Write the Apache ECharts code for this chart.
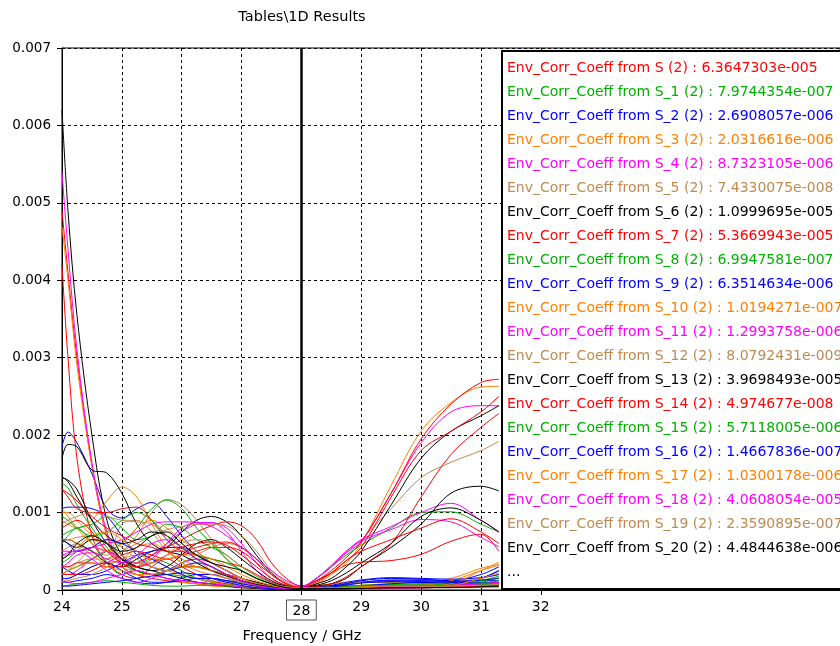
<!DOCTYPE html>
<html>
<head>
<meta charset="utf-8">
<script src="https://cdn.jsdelivr.net/npm/echarts@6/dist/echarts.min.js"></script>
<style>
  html, body { margin: 0; padding: 0; background: #fff; }
  #chart { width: 840px; height: 646px; }
</style>
</head>
<body>
<div id="chart"></div>
<script>
// frequency samples (GHz) shared by every curve
var freq = [24, 24.1, 24.25, 24.5, 24.75, 25, 25.25, 25.5, 25.75, 26, 26.25, 26.5, 26.75, 27,
            27.25, 27.5, 27.75, 28, 28.25, 28.5, 28.75, 29, 29.5, 30, 30.5, 31, 31.3];

// curve values, in units of 1e-4
var s0  = [49, 41, 30, 16, 7, 3, 2, 1.5, 1.2, 1, 0.8, 0.6, 0.5, 0.4, 0.3, 0.3, 0.4, 0.5, 1.2, 2.2, 3.2, 3.6, 3.8, 4.6, 6.3, 7.2, 5.0];
var s1  = [6, 7, 8, 6, 3.5, 2, 3, 4, 3.5, 2.5, 1.5, 1, 0.8, 0.5, 0.3, 0.2, 0.2, 0.3, 0.3, 0.4, 0.5, 0.6, 0.8, 0.9, 0.8, 1.0, 1.6];
var s2  = [18.5, 20.4, 19, 15, 10.5, 9.3, 10.5, 11.3, 9.5, 7, 5, 3.5, 2.5, 1.5, 0.8, 0.4, 0.2, 0.1, 0.2, 0.4, 0.7, 1.0, 1.2, 1.1, 1.0, 1.5, 2.5];
var s3  = [47, 40, 29, 16, 7, 3, 2.5, 2, 1.5, 1, 0.8, 0.5, 0.4, 0.3, 0.2, 0.2, 0.3, 0.4, 0.6, 0.8, 1.0, 1.0, 1.0, 1.0, 1.5, 2.8, 3.3];
var s4  = [54, 44, 31, 16.5, 7.5, 3.5, 2.5, 2, 1.5, 1.2, 1, 0.8, 0.6, 0.4, 0.3, 0.3, 0.4, 0.5, 0.5, 0.4, 0.3, 0.2, 0.2, 0.3, 0.5, 0.8, 1.0];
var s5  = [5, 5.5, 6, 5, 4.5, 8.5, 9, 7.5, 5, 4, 3, 2.5, 2, 1.5, 1, 0.6, 0.4, 0.4, 1.5, 3, 4.8, 6.5, 10.5, 14.5, 16.5, 18, 19.2];
var s6  = [62, 49, 35.5, 20, 9, 4.5, 3, 2.5, 2, 1.5, 1, 0.8, 0.5, 0.3, 0.2, 0.1, 0.1, 0.1, 0.2, 0.5, 0.8, 1.0, 1.0, 1.0, 0.8, 0.7, 0.6];
var s7  = [42, 30, 17, 7, 3.5, 2, 1.5, 3, 4, 3, 2, 1.2, 0.8, 0.5, 0.3, 0.2, 0.2, 0.3, 0.3, 0.3, 0.3, 0.3, 0.4, 0.5, 0.6, 0.5, 0.5];
var s8  = [13.8, 13.2, 11, 8, 5.5, 3.5, 2.5, 2, 2, 1.8, 1.5, 1, 0.7, 0.5, 0.3, 0.3, 0.3, 0.4, 1.5, 3, 4.5, 5.8, 8, 10, 10.1, 8.5, 7.5];
var s9  = [10.5, 10.7, 10.7, 10.5, 9.5, 7, 4.5, 3, 2.5, 3, 3.5, 3, 2, 1.2, 0.6, 0.3, 0.2, 0.2, 0.3, 0.5, 0.8, 1.0, 1.3, 1.3, 1.2, 1.2, 1.2];
var s10 = [10, 10, 9, 7, 5, 4, 3.5, 3, 2.5, 2, 1.5, 1, 0.7, 0.5, 0.3, 0.3, 0.3, 0.3, 0.8, 2, 3.5, 6, 13.5, 20.5, 24.2, 26.2, 26.3];
var s11 = [4.5, 4.5, 5, 5.5, 5, 4, 3.5, 4.5, 6, 7.5, 8.5, 8.7, 8, 6, 3.5, 1.5, 0.6, 0.4, 1.5, 3, 4.8, 6.2, 12.5, 19, 23, 23.8, 23.8];
var s12 = [3, 3, 3.5, 4, 4, 5, 7, 10, 11.7, 11, 9, 6.5, 4, 2.5, 1.5, 0.8, 0.4, 0.3, 0.4, 0.6, 0.8, 1.0, 1.0, 0.8, 0.6, 0.5, 0.5];
var s13 = [6.5, 6.5, 6, 5, 3.5, 3, 4, 5, 5.5, 7.5, 9, 9.5, 8.8, 7, 4.5, 2.2, 0.8, 0.3, 0.8, 1.5, 3, 5, 11, 17, 20.5, 22.5, 23.8];
var s14 = [3, 3, 3.5, 3.5, 3, 3, 3.5, 4.5, 5.5, 6.5, 7.5, 8.3, 8.8, 8.3, 6.5, 3.5, 1.5, 0.5, 1.2, 2.5, 4.2, 6.2, 12.5, 19.5, 24, 26.8, 27.2];
var s15 = [2, 2.5, 3, 4, 5, 6, 8, 10.5, 11.6, 10.5, 8, 6, 4, 2.5, 1.5, 0.8, 0.4, 0.3, 0.3, 0.4, 0.5, 0.5, 0.6, 0.6, 0.5, 0.8, 1.2];
var s16 = [1, 1, 1.2, 1.5, 2, 1.5, 1, 0.8, 1, 1.5, 2, 2, 1.5, 1, 0.5, 0.3, 0.2, 0.1, 0.2, 0.5, 0.8, 1.2, 1.5, 1.4, 1.2, 2, 3];
var s17 = [9, 8.5, 8, 9, 11.5, 13.3, 12, 8.5, 5.5, 3.5, 2.5, 2, 1.5, 1, 0.6, 0.3, 0.2, 0.2, 0.3, 0.4, 0.5, 0.6, 0.8, 0.8, 0.7, 0.8, 1];
var s18 = [2, 2, 2.5, 4, 5, 4, 3, 4, 6, 8, 8.7, 8.7, 7.5, 5, 2.5, 1, 0.5, 0.4, 1.5, 3.2, 5, 6.5, 8.2, 10, 11.2, 9, 7.5];
var s19 = [1, 1.5, 2, 3, 4, 5, 6, 7, 7.8, 8.2, 8.5, 8.5, 8.3, 7, 5, 2.5, 1, 0.4, 0.3, 0.3, 0.3, 0.3, 0.3, 0.3, 0.3, 0.3, 0.3];
var s20 = [14.5, 14.2, 13, 9, 6, 4, 2.5, 2, 2.5, 3, 3, 2.5, 2, 1.5, 1, 0.6, 0.4, 0.3, 0.5, 0.8, 1.5, 3, 5.5, 8.5, 12.5, 13.4, 12.8];
var s21 = [13, 12, 10.5, 10, 10, 10.5, 10.7, 9, 6.5, 5, 4.5, 4, 3.5, 3, 2, 1, 0.5, 0.4, 1.2, 2.2, 3.8, 5.5, 12, 18, 20.5, 23, 25];
var s22 = [3.5, 4, 5, 6.5, 6, 4, 2.5, 2, 2.5, 3.5, 4, 3.5, 2.5, 1.5, 0.8, 0.4, 0.2, 0.2, 0.2, 0.3, 0.4, 0.5, 0.6, 0.7, 0.7, 0.9, 1.2];
var s23 = [3, 2.5, 2, 2, 2.5, 3.5, 4.5, 5, 5.5, 5.5, 4.5, 3.5, 2.5, 1.5, 0.8, 0.4, 0.2, 0.1, 0.1, 0.1, 0.1, 0.2, 0.3, 0.3, 0.5, 1.5, 2.5];
var s24 = [6, 6.5, 6, 4.5, 3.5, 4, 5.5, 6, 5, 3.5, 3, 2.5, 1.8, 1, 0.5, 0.3, 0.2, 0.2, 0.3, 0.4, 0.5, 0.5, 0.5, 0.6, 1.2, 2.5, 3.2];
var s25 = [4.5, 4.8, 5, 4, 2.5, 1.5, 1, 1.5, 2.5, 3.5, 4, 3.5, 2.5, 1.5, 0.8, 0.4, 0.3, 0.4, 1.5, 3, 5, 6.3, 7.8, 9.1, 8.8, 6.8, 5.6];
var s26 = [1, 1.2, 1.5, 2, 3, 4, 4.5, 4, 3, 2, 1.5, 1.2, 1, 0.8, 0.5, 0.3, 0.2, 0.2, 0.2, 0.3, 0.3, 0.3, 0.5, 0.8, 1, 1.5, 2];
var s27 = [6.5, 6, 5.5, 6.5, 6, 4, 3, 2.5, 3, 4.5, 6, 6.5, 5.5, 4, 2.5, 1.2, 0.5, 0.3, 0.6, 1.2, 2.2, 3.5, 6, 9.5, 10.6, 9, 7.5];
var s28 = [2, 2, 2, 2.5, 3.5, 4.5, 5, 4.5, 4, 4.5, 5, 5.5, 5.5, 5, 3.5, 2, 0.8, 0.3, 0.4, 0.8, 1.7, 3, 6, 12, 17.5, 21, 22.8];
var s29 = [0.5, 0.6, 0.8, 1, 1.2, 1, 0.8, 0.6, 0.5, 0.5, 0.6, 0.6, 0.5, 0.4, 0.3, 0.2, 0.2, 0.2, 0.2, 0.2, 0.3, 0.3, 0.4, 0.5, 0.6, 1.2, 1.8];
var s30 = [1.5, 1.5, 2, 3, 3.5, 2.5, 1.5, 1, 1, 1.2, 1.5, 1.5, 1.2, 0.8, 0.5, 0.3, 0.2, 0.2, 0.3, 0.6, 1, 1.3, 1.6, 1.5, 1.4, 1.6, 2];
var s31 = [2, 2.5, 3, 3.5, 3, 2.5, 2, 2, 2.5, 3, 3, 2.5, 2, 1.5, 0.8, 0.4, 0.2, 0.2, 0.2, 0.3, 0.3, 0.3, 0.4, 0.5, 0.8, 2.5, 3.6];
var s32 = [1.2, 1, 0.8, 1, 1.5, 2, 2.5, 2, 1.5, 1.2, 1, 0.8, 0.6, 0.4, 0.3, 0.2, 0.2, 0.2, 0.2, 0.2, 0.2, 0.2, 0.3, 0.3, 0.4, 0.5, 0.6];
var s33 = [2, 2.5, 3.5, 5.5, 6.5, 5.5, 4, 3, 2.5, 3.5, 4.5, 5.5, 6, 5.5, 4, 2, 0.8, 0.3, 0.2, 0.2, 0.2, 0.3, 0.3, 0.3, 0.4, 0.5, 0.6];
var s34 = [17, 18.8, 18.5, 15.5, 15.1, 12.5, 8.5, 6, 5, 4.5, 3.5, 2.5, 1.8, 1.2, 0.7, 0.4, 0.2, 0.2, 0.2, 0.2, 0.3, 0.4, 0.5, 0.5, 0.6, 0.7, 0.8];
var s35 = [13, 12.5, 11.5, 9.5, 8, 7, 6, 5.5, 5, 5, 5.5, 6, 6.2, 5.5, 4, 2, 0.8, 0.3, 1, 2.2, 3.8, 5, 6.5, 8.0, 9.2, 7.5, 6.0];
var s36 = [7, 7.5, 8, 8.5, 9.5, 8, 6.5, 7, 8.5, 8, 6.5, 5.5, 4.5, 3, 1.8, 0.9, 0.4, 0.3, 0.3, 0.4, 0.5, 0.6, 0.7, 0.8, 0.9, 1.2, 1.5];
var s37 = [6.5, 6, 5, 5.5, 6.5, 6, 5, 4, 3, 2, 1.5, 1.5, 1.2, 1, 0.6, 0.3, 0.2, 0.1, 0.1, 0.2, 0.3, 0.5, 0.8, 1.0, 1.0, 0.9, 0.9];
var s38 = [10.5, 9.5, 8, 6, 5, 6, 8, 9, 8, 6.5, 5, 3.5, 2.5, 1.5, 0.8, 0.4, 0.2, 0.2, 0.2, 0.3, 0.4, 0.5, 0.5, 0.5, 0.5, 0.6, 0.8];
var s39 = [5, 5, 5, 5.5, 6, 6.5, 7.5, 8.5, 8.8, 8.8, 8.7, 8.2, 7, 5.5, 4, 2.5, 1.2, 0.5, 0.3, 0.3, 0.3, 0.3, 0.3, 0.4, 0.5, 0.7, 0.9];
var s40 = [8.5, 9, 9.5, 10, 9.5, 9, 8.8, 8.5, 7, 5.5, 4, 2.5, 1.5, 1, 0.6, 0.3, 0.2, 0.2, 0.2, 0.3, 0.3, 0.3, 0.3, 0.4, 0.5, 0.6, 0.7];
var s41 = [14.6, 14, 12, 9, 7, 6, 6.5, 7.5, 7, 5.5, 4, 3, 2, 1.2, 0.7, 0.4, 0.2, 0.2, 0.2, 0.2, 0.2, 0.3, 0.3, 0.3, 0.4, 0.5, 0.6];
var s42 = [8, 8.5, 9, 7.5, 5, 3.5, 3, 3.5, 4.5, 5.5, 6, 6.2, 5.8, 4.5, 3, 1.5, 0.6, 0.3, 0.2, 0.2, 0.2, 0.2, 0.3, 0.3, 0.4, 0.5, 0.6];
var s43 = [9.5, 9, 8, 7, 7.5, 9, 10, 9, 7, 5.5, 4.5, 4, 3.5, 2.5, 1.5, 0.8, 0.4, 0.3, 0.3, 0.3, 0.4, 0.5, 0.6, 0.6, 0.6, 0.7, 0.8];
var s44 = [0.5, 0.5, 0.6, 0.8, 1, 1.2, 1.5, 1.8, 2, 2.2, 2, 1.5, 1, 0.6, 0.3, 0.2, 0.1, 0.1, 0.2, 0.4, 0.6, 0.9, 1.1, 1.2, 1.1, 1.3, 1.5];
var s45 = [4, 4.5, 5.5, 7, 7.5, 6.5, 5, 4, 4, 4.5, 4.5, 4, 3, 2, 1.2, 0.6, 0.3, 0.2, 0.2, 0.3, 0.3, 0.4, 0.5, 0.5, 0.6, 1.5, 2.2];
var s46 = [3, 3.5, 4.5, 4.8, 4, 3.5, 4.5, 6, 6.5, 5.5, 4, 3, 2, 1.2, 0.6, 0.3, 0.2, 0.2, 0.2, 0.2, 0.3, 0.3, 0.4, 0.5, 0.6, 0.8, 1];
var s47 = [6.5, 6.5, 6.8, 7, 6, 4.5, 3.5, 3.5, 4.5, 6, 6.5, 6, 4.5, 3, 1.8, 0.9, 0.4, 0.3, 0.3, 0.3, 0.3, 0.3, 0.4, 0.4, 0.5, 0.6, 0.7];
var s48 = [4, 4.5, 6, 7, 6, 5, 5.5, 7, 7.5, 6, 4.5, 3.5, 3, 2.5, 1.5, 0.8, 0.3, 0.2, 0.2, 0.2, 0.2, 0.2, 0.3, 0.3, 0.3, 0.4, 0.5];

var curves = [s0, s1, s2, s3, s4, s5, s6, s7, s8, s9, s10, s11, s12, s13, s14, s15, s16, s17, s18, s19, s20,
              s21, s22, s23, s24, s25, s26, s27, s28, s29, s30, s31, s32, s33, s34, s35, s36, s37, s38, s39, s40,
              s41, s42, s43, s44, s45, s46, s47, s48];

// values printed in the legend for S, S_1 .. S_20
var legendValues = ['6.3647303e-005', '7.9744354e-007', '2.6908057e-006', '2.0316616e-006', '8.7323105e-006',
  '7.4330075e-008', '1.0999695e-005', '5.3669943e-005', '6.9947581e-007', '6.3514634e-006', '1.0194271e-007',
  '1.2993758e-006', '8.0792431e-009', '3.9698493e-005', '4.974677e-008', '5.7118005e-006', '1.4667836e-007',
  '1.0300178e-006', '4.0608054e-005', '2.3590895e-007', '4.4844638e-006'];

var yTicks = [0, 0.001, 0.002, 0.003, 0.004, 0.005, 0.006, 0.007];
var xTicks = [24, 25, 26, 27, 28, 29, 30, 31, 32];
var markerFreq = 28;

var palette = ['#ff0000', '#00b000', '#0000ff', '#ff8000', '#ff00ff', '#c08a50', '#000000'];
var font = '"DejaVu Sans", Verdana, sans-serif';

function seriesName(i) {
  var s = i === 0 ? 'S' : 'S_' + i;
  var n = 'Env_Corr_Coeff from ' + s + ' (2)';
  if (i < legendValues.length) n += ' : ' + legendValues[i];
  return n;
}

var series = [];
var legendData = [];
curves.forEach(function (vals, i) {
  var col = palette[i % palette.length];
  var s = {
    name: seriesName(i),
    type: 'line',
    smooth: 0.35,
    symbol: 'none',
    color: col,
    lineStyle: { width: 1, color: col },
    data: vals.map(function (v, j) { return [freq[j], v * 1e-4]; })
  };
  if (i === 0) {
    s.markLine = {
      silent: true,
      symbol: 'none',
      label: { show: false },
      lineStyle: { color: '#000', width: 2.5, type: 'solid' },
      data: [{ xAxis: markerFreq }]
    };
  }
  series.push(s);
  if (i < legendValues.length) legendData.push({ name: s.name, textStyle: { color: col } });
});
series.push({ name: '...', type: 'line', color: '#000', data: [] });
legendData.push({ name: '...', textStyle: { color: '#000' } });

var chart = echarts.init(document.getElementById('chart'), null, { renderer: 'canvas' });
chart.setOption({
  animation: false,
  backgroundColor: '#fff',
  textStyle: { fontFamily: font },
  title: [
    { text: 'Tables\\1D Results', left: 297, top: 5, textAlign: 'center',
      textStyle: { fontFamily: font, fontSize: 14.5, fontWeight: 'normal', color: '#000' } },
    { text: 'Frequency / GHz', left: 297, top: 624, textAlign: 'center',
      textStyle: { fontFamily: font, fontSize: 14.5, fontWeight: 'normal', color: '#000' } }
  ],
  grid: { left: 62, right: 0, top: 48, bottom: 56, show: true, borderColor: '#000', borderWidth: 1 },
  legend: {
    orient: 'vertical',
    left: 502, top: 51,
    padding: [10, 0, 10, 0],
    icon: 'none',
    itemWidth: 0, itemHeight: 14, itemGap: 10,
    selectedMode: false,
    backgroundColor: '#fff',
    borderColor: '#000', borderWidth: 2,
    textStyle: { fontFamily: font, fontSize: 14 },
    data: legendData
  },
  xAxis: {
    type: 'value', min: 24, max: 37, interval: 1,
    axisLine: { lineStyle: { color: '#000' } },
    axisTick: { show: true, length: 5, customValues: xTicks, lineStyle: { color: '#000' } },
    splitLine: { show: true, lineStyle: { color: '#000', type: [3, 3], width: 1 } },
    axisLabel: {
      color: '#000', fontSize: 14, fontFamily: font, margin: 10,
      customValues: xTicks,
      formatter: function (v) {
        return v === markerFreq ? '{m|' + v + '}' : String(v);
      },
      rich: { m: { fontSize: 14, fontFamily: font, color: '#000', borderColor: '#555', borderWidth: 1, padding: [4, 6, 2, 6] } }
    }
  },
  yAxis: {
    type: 'value', min: 0, max: 0.007, interval: 0.001,
    axisLine: { show: true, lineStyle: { color: '#000' } },
    axisTick: { show: true, length: 5, lineStyle: { color: '#000' } },
    splitLine: { show: true, lineStyle: { color: '#000', type: [3, 3], width: 1 } },
    axisLabel: {
      color: '#000', fontSize: 13.5, fontFamily: font, margin: 11,
      formatter: function (v) {
        var t = yTicks.find(function (k) { return Math.abs(k - v) < 1e-9; });
        return t === undefined ? '' : String(t);
      }
    }
  },
  series: series
});
</script>
</body>
</html>
